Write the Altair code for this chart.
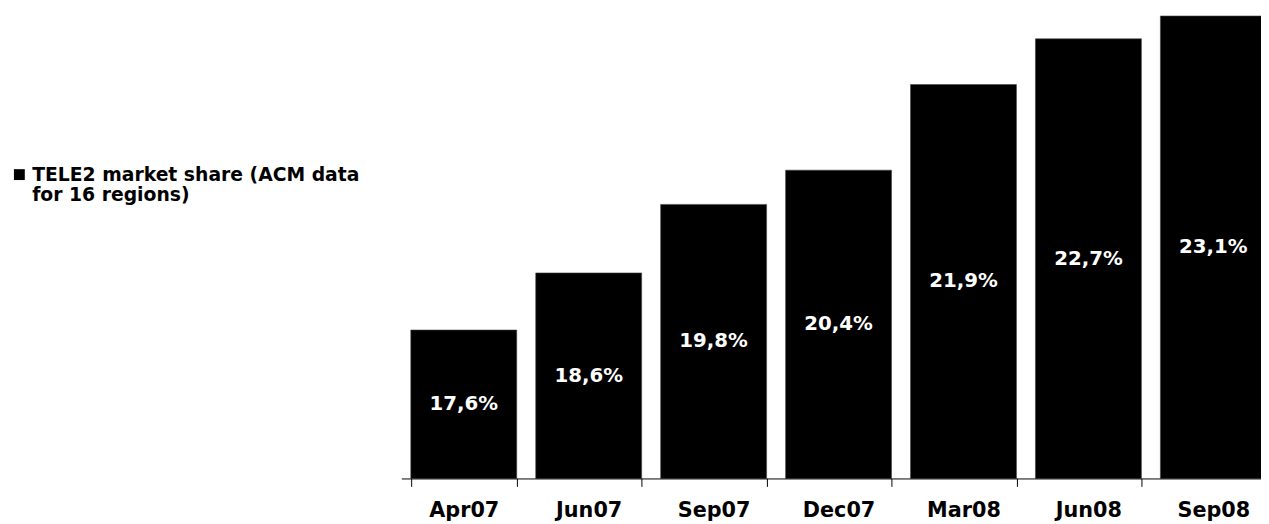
import altair as alt
import pandas as pd

periods = ["Apr07", "Jun07", "Sep07", "Dec07", "Mar08", "Jun08", "Sep08"]
shares = [17.6, 18.6, 19.8, 20.4, 21.9, 22.7, 23.1]
series_name = "TELE2 market share (ACM data for 16 regions)"
legend_lines = ["TELE2 market share (ACM data", "for 16 regions)"]
y_min = 15.0
y_max = 23.1

df = pd.DataFrame({
    "period": periods,
    "share": shares,
    "series": [series_name] * len(periods),
})

label_expr = "[" + ", ".join("'" + s + "'" for s in legend_lines) + "]"

x_enc = alt.X(
    "period:N",
    sort=periods,
    title=None,
    scale=alt.Scale(paddingInner=0.152, paddingOuter=0.076, range=[0, 885]),
    axis=alt.Axis(
        labelAngle=0,
        labelFont="DejaVu Sans",
        labelFontWeight="bold",
        labelFontSize=21,
        labelColor="black",
        labelPadding=13,
        tickBand="extent",
        tickSize=8,
        tickColor="black",
        domainColor="black",
        domainWidth=1,
        tickWidth=1,
        grid=False,
        zindex=1,
    ),
)

y_scale = alt.Scale(domain=[y_min, y_max], zero=False, nice=False)

bars = alt.Chart(df).mark_bar(stroke="#444", strokeWidth=0.6).encode(
    x=x_enc,
    y=alt.Y("share:Q", scale=y_scale, axis=None),
    y2=alt.datum(y_min),
    color=alt.Color(
        "series:N",
        scale=alt.Scale(range=["black"]),
        legend=alt.Legend(
            title=None,
            orient="none",
            legendX=-396,
            legendY=151,
            symbolType="square",
            symbolSize=121,
            symbolStrokeWidth=0,
            labelFont="DejaVu Sans",
            labelFontWeight="bold",
            labelFontSize=19,
            labelColor="black",
            labelLimit=0,
            labelOffset=3.5,
            labelExpr=label_expr,
            padding=0,
        ),
    ),
)

texts = alt.Chart(df).transform_calculate(
    mid=f"(datum.share + {y_min}) / 2",
    lab="replace(format(datum.share, '.1f'), '.', ',') + '%'",
).mark_text(
    color="white",
    font="DejaVu Sans",
    fontWeight="bold",
    fontSize=20,
    baseline="middle",
    align="center",
).encode(
    x=alt.X("period:N", sort=periods),
    y=alt.Y("mid:Q", scale=y_scale),
    text="lab:N",
)

chart = alt.layer(bars, texts).properties(
    width=870,
    height=468,
    autosize=alt.AutoSizeParams(type="none"),
    padding={"left": 398, "top": 5, "right": 0, "bottom": 45},
).configure(background="white", view=alt.ViewConfig(stroke=None))

chart.save("out.html", embed_options={"renderer": "svg", "actions": False})
